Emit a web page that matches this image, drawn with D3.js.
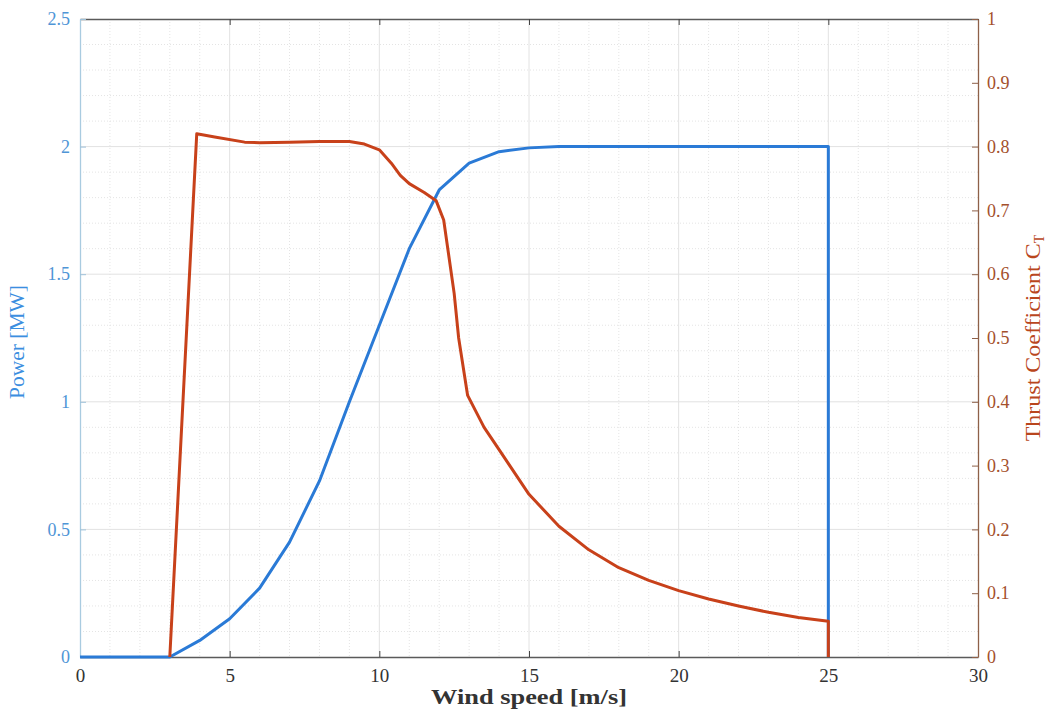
<!DOCTYPE html>
<html><head><meta charset="utf-8">
<script src="https://cdn.jsdelivr.net/npm/d3@7"></script>
<style>body{margin:0;background:#fff}svg{display:block}</style>
</head><body>
<svg id="c" width="1047" height="716"></svg>
<script>
// Data
const powerWind = [0, 3, 4, 5, 6, 7, 8, 9, 10, 11, 12, 13, 14, 15, 16, 25, 25];
const powerMW   = [0, 0, 0.065, 0.15, 0.27, 0.45, 0.69, 1.0, 1.3, 1.6, 1.83, 1.935, 1.98, 1.995, 2.0, 2.0, 0];
const ctWind = [3, 3.9, 4.5, 5.5, 6, 7, 8, 9, 9.5, 10, 10.4, 10.7, 11, 11.5, 11.9, 12.15, 12.5, 12.65, 12.95, 13.5, 14, 15, 16, 17, 18, 19, 20, 21, 22, 23, 24, 25, 25];
const ctVals = [0, 0.82, 0.815, 0.807, 0.806, 0.807, 0.808, 0.808, 0.804, 0.795, 0.774, 0.755, 0.742, 0.728, 0.715, 0.685, 0.57, 0.5, 0.41, 0.36, 0.325, 0.255, 0.205, 0.168, 0.14, 0.12, 0.104, 0.091, 0.08, 0.07, 0.062, 0.056, 0];
const xTicks = [0, 5, 10, 15, 20, 25, 30];
const yLeftTicks = [0, 0.5, 1, 1.5, 2, 2.5];
const yRightTicks = [0, 0.1, 0.2, 0.3, 0.4, 0.5, 0.6, 0.7, 0.8, 0.9, 1];

const L = 80, R = 978, T = 19, B = 657;
const blue = "#2a7ad6", red = "#c8411a";
const leftCol = "#4f95d6", rightCol = "#a4502c";
const svg = d3.select("#c");
const x = d3.scaleLinear().domain([0, 30]).range([L, R]);
const yL = d3.scaleLinear().domain([0, 2.5]).range([B, T]);
const yR = d3.scaleLinear().domain([0, 1]).range([B, T]);

// minor grid
const g = svg.append("g");
d3.range(0, 31, 1).filter(v => v % 5).forEach(v => {
  g.append("line").attr("x1", x(v)).attr("x2", x(v)).attr("y1", T).attr("y2", B)
    .attr("stroke", "#e4e4e4").attr("stroke-width", 1).attr("stroke-dasharray", "1,2");
});
d3.range(0, 2.51, 0.1).forEach(v => {
  if (Math.abs(v * 2 - Math.round(v * 2)) < 1e-6) return;
  g.append("line").attr("x1", L).attr("x2", R).attr("y1", yL(v)).attr("y2", yL(v))
    .attr("stroke", "#e4e4e4").attr("stroke-width", 1).attr("stroke-dasharray", "1,2");
});
// major grid
xTicks.slice(1, -1).forEach(v => {
  g.append("line").attr("x1", x(v)).attr("x2", x(v)).attr("y1", T).attr("y2", B)
    .attr("stroke", "#e2e2e2").attr("stroke-width", 1);
});
yLeftTicks.slice(1, -1).forEach(v => {
  g.append("line").attr("x1", L).attr("x2", R).attr("y1", yL(v)).attr("y2", yL(v))
    .attr("stroke", "#e2e2e2").attr("stroke-width", 1);
});

// axes
const font = "'Liberation Serif', 'DejaVu Serif', serif";
const xAxB = d3.axisBottom(x).tickValues(xTicks).tickSizeInner(-6).tickSizeOuter(0).tickPadding(12);
const gb = svg.append("g").attr("transform", `translate(0,${B})`).call(xAxB);
gb.select(".domain").attr("stroke", "#5a5a5a").attr("stroke-width", 1.3);
gb.selectAll(".tick line").attr("stroke", "#444");
gb.selectAll("text").attr("font-family", font).attr("font-size", 19).attr("fill", "#333");

const xAxT = d3.axisTop(x).tickValues(xTicks).tickSizeInner(-6).tickSizeOuter(0).tickFormat("");
const gt = svg.append("g").attr("transform", `translate(0,${T})`).call(xAxT);
gt.select(".domain").attr("stroke", "#5a5a5a").attr("stroke-width", 1.5);
gt.selectAll(".tick line").attr("stroke", "#444");

const yAxL = d3.axisLeft(yL).tickValues(yLeftTicks).tickSizeInner(-6).tickSizeOuter(0).tickPadding(10).tickFormat(d3.format("~g"));
const gl = svg.append("g").attr("transform", `translate(${L},0)`).call(yAxL);
gl.select(".domain").attr("stroke", "#a9cbe0").attr("stroke-width", 1.3);
gl.selectAll(".tick line").attr("stroke", "#9fc2da");
gl.selectAll("text").attr("font-family", font).attr("font-size", 18).attr("fill", leftCol);

const yAxR = d3.axisRight(yR).tickValues(yRightTicks).tickSizeInner(-6).tickSizeOuter(0).tickPadding(9).tickFormat(d3.format("~g"));
const gr = svg.append("g").attr("transform", `translate(${R},0)`).call(yAxR);
gr.select(".domain").attr("stroke", "#8e6048").attr("stroke-width", 1.3);
gr.selectAll(".tick line").attr("stroke", "#8e6048");
gr.selectAll("text").attr("font-family", font).attr("font-size", 18).attr("fill", rightCol);

// lines
const lineP = d3.line().x((d, i) => x(powerWind[i])).y(d => yL(d));
svg.append("path").datum(powerMW).attr("d", lineP).attr("fill", "none")
  .attr("stroke", blue).attr("stroke-width", 3).attr("stroke-linejoin", "round");
const lineC = d3.line().x((d, i) => x(ctWind[i])).y(d => yR(d));
svg.append("path").datum(ctVals).attr("d", lineC).attr("fill", "none")
  .attr("stroke", red).attr("stroke-width", 3).attr("stroke-linejoin", "round");

// labels
svg.append("text").attr("x", 529).attr("y", 704).attr("text-anchor", "middle")
  .attr("font-family", font).attr("font-weight", "bold").attr("font-size", 21).attr("fill", "#333")
  .attr("textLength", 196).attr("lengthAdjust", "spacingAndGlyphs")
  .text("Wind speed [m/s]");
svg.append("text").attr("transform", `translate(24,${342}) rotate(-90)`).attr("text-anchor", "middle")
  .attr("font-family", font).attr("font-size", 20).attr("fill", "#3b8ee0")
  .attr("textLength", 114).attr("lengthAdjust", "spacingAndGlyphs")
  .text("Power [MW]");
const rt = svg.append("text").attr("transform", `translate(1040,${338}) rotate(-90)`).attr("text-anchor", "middle")
  .attr("font-family", font).attr("font-size", 21).attr("fill", "#b9461d");
rt.append("tspan").attr("textLength", 198).attr("lengthAdjust", "spacingAndGlyphs").text("Thrust Coefficient C");
rt.append("tspan").attr("font-size", 14).attr("dy", 4).text("T");
</script>
</body></html>
